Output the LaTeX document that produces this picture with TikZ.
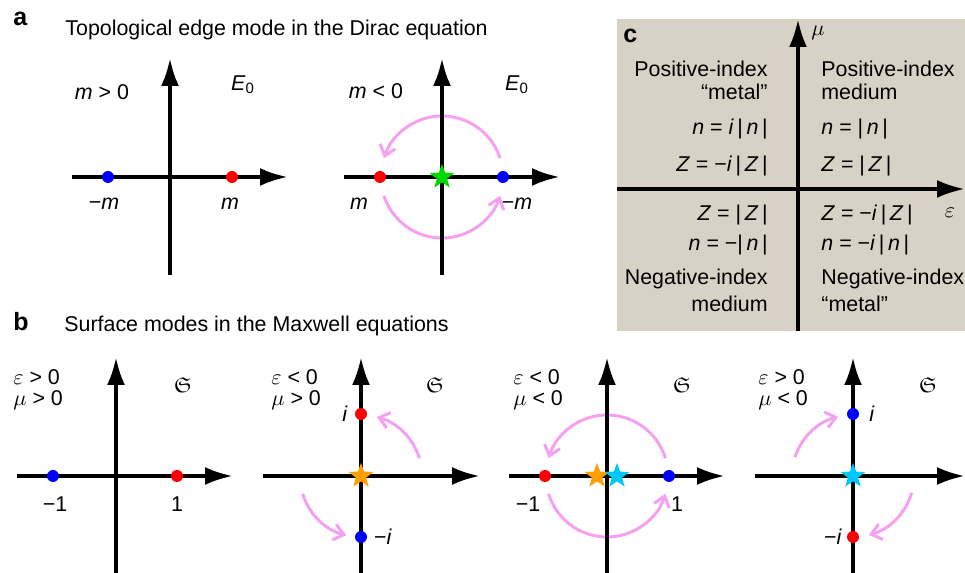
\documentclass[tikz,border=0pt]{standalone}
\usepackage{fontspec}
\setmainfont{Liberation Sans}
\usepackage{amssymb}
\usetikzlibrary{arrows.meta,shapes.geometric}
\definecolor{flowpink}{RGB}{245,160,240}
\definecolor{staryellow}{RGB}{255,160,0}
\definecolor{starcyan}{RGB}{0,200,245}
\definecolor{stargreen}{RGB}{0,215,0}
\definecolor{panelgray}{RGB}{216,209,198}
\begin{document}
\begin{tikzpicture}[x=0.5pt,y=0.5pt,
  every node/.style={font=\fontsize{10.7}{12.8}\selectfont, inner sep=0pt},
  axis/.style={line width=2pt, -{Latex[length=14pt,width=9pt]}},
  flow/.style={flowpink, line width=1.5pt, -{Straight Barb[length=5pt,width=8pt]}},
  dot/.style={circle, fill=#1, minimum size=6pt},
  starmark/.style={star, star points=5, star point ratio=2.4, fill=#1, minimum size=13pt},
  panel/.style={font=\fontsize{12.5}{14}\selectfont\bfseries, anchor=base west}]
\useasboundingbox (0,0) rectangle (965,573);
% panel a
\node[panel] (la) at (13,547) {a};
\node[anchor=base west] (ta) at (65,537) {Topological edge mode in the Dirac equation};
\draw[axis] (72,396) -- (288,396);
\draw[axis] (170,298) -- (170,515);
\node[dot=blue] (a1l) at (108,396) {};
\node[dot=red] (a1r) at (232,396) {};
\node (a1lm) at (104,369) {−\textit{m}};
\node (a1rm) at (230,369) {\textit{m}};
\node (a1c) at (102,481) {\textit{m} > 0};
\node (a1e) at (243,488) {\textit{E}\textsubscript{0}};
% a, m < 0
\draw[flow] (442,396) ++(18:61) arc[start angle=18, end angle=162, radius=61];
\draw[flow] (442,396) ++(198:61) arc[start angle=198, end angle=342, radius=61];
\draw[axis] (344,396) -- (560,396);
\draw[axis] (442,298) -- (442,515);
\node[dot=red] (a2l) at (380,396) {};
\node[dot=blue] (a2r) at (503,396) {};
\node[starmark=stargreen] (a2s) at (442,396) {};
\node (a2lm) at (359,369) {\textit{m}};
\node (a2rm) at (517,369) {−\textit{m}};
\node (a2c) at (376,482) {\textit{m} < 0};
\node (a2e) at (517,488) {\textit{E}\textsubscript{0}};
% panel c
\fill[panelgray] (617,242) rectangle (965,554);
\draw[axis] (617,384) -- (965,384);
\draw[axis] (798,242) -- (798,554);
\node[panel] (lc) at (623,530) {c};
\node (cmu) at (818,540) {$\mu$};
\node (ceps) at (950,360) {$\varepsilon$};
\node[anchor=base east] (c1) at (768,496) {Positive-index};
\node[anchor=base east] (c2) at (768,473) {“metal”};
\node[anchor=base east] (c3) at (768,438) {\textit{n} = \textit{i}\,|\,\textit{n}\,|};
\node[anchor=base east] (c4) at (768,401) {\textit{Z} = −\textit{i}\,|\,\textit{Z}\,|};
\node[anchor=base west] (c5) at (821,496) {Positive-index};
\node[anchor=base west] (c6) at (821,473) {medium};
\node[anchor=base west] (c7) at (821,438) {\textit{n} = |\,\textit{n}\,|};
\node[anchor=base west] (c8) at (821,401) {\textit{Z} = |\,\textit{Z}\,|};
\node[anchor=base east] (c9) at (768,352) {\textit{Z} = |\,\textit{Z}\,|};
\node[anchor=base east] (c10) at (768,322) {\textit{n} = −|\,\textit{n}\,|};
\node[anchor=base east] (c11) at (768,288) {Negative-index};
\node[anchor=base east] (c12) at (768,261) {medium};
\node[anchor=base west] (c13) at (821,352) {\textit{Z} = −\textit{i}\,|\,\textit{Z}\,|};
\node[anchor=base west] (c14) at (821,322) {\textit{n} = −\textit{i}\,|\,\textit{n}\,|};
\node[anchor=base west] (c15) at (821,288) {Negative-index};
\node[anchor=base west] (c16) at (821,261) {“metal”};
% panel b
\node[panel] (lb) at (13,242) {b};
\node[anchor=base west] (tb) at (64,241) {Surface modes in the Maxwell equations};
\draw[axis] (17,97) -- (233,97);
\draw[axis] (116,0) -- (116,216);
\node[dot=blue] (b1l) at (53,97) {};
\node[dot=red] (b1r) at (177,97) {};
\node (b1lm) at (55,69) {−1};
\node (b1rm) at (177,69) {1};
\node[anchor=west] (b1e) at (13,196) {$\varepsilon$ > 0};
\node[anchor=west] (b1m) at (13,173) {$\mu$ > 0};
\node (b1f) at (183,188) {$\mathfrak{S}$};
% b, eps < 0, mu > 0
\draw[flow] (361,97) ++(17:61) arc[start angle=17, end angle=75, radius=61];
\draw[flow] (361,97) ++(197:61) arc[start angle=197, end angle=256, radius=61];
\draw[axis] (263,97) -- (480,97);
\draw[axis] (361,0) -- (361,216);
\node[dot=red] (b2t) at (361,159) {};
\node[dot=blue] (b2b) at (361,36) {};
\node[starmark=staryellow] (b2s) at (361,97) {};
\node (b2tm) at (345,159) {\textit{i}};
\node (b2bm) at (383,36) {−\textit{i}};
\node[anchor=west] (b2e) at (271,196) {$\varepsilon$ < 0};
\node[anchor=west] (b2m) at (271,173) {$\mu$ > 0};
\node (b2f) at (435,188) {$\mathfrak{S}$};
% b, eps < 0, mu < 0
\draw[flow] (607,97) ++(17:61) arc[start angle=17, end angle=163, radius=61];
\draw[flow] (607,97) ++(197:61) arc[start angle=197, end angle=343, radius=61];
\draw[axis] (509,97) -- (725,97);
\draw[axis] (607,0) -- (607,216);
\node[dot=red] (b3l) at (545,97) {};
\node[dot=blue] (b3r) at (669,97) {};
\node[starmark=staryellow] (b3s) at (597,97) {};
\node[starmark=starcyan] (b3c) at (617,97) {};
\node (b3lm) at (528,69) {−1};
\node (b3rm) at (677,69) {1};
\node[anchor=west] (b3e) at (513,196) {$\varepsilon$ < 0};
\node[anchor=west] (b3m) at (513,173) {$\mu$ < 0};
\node (b3f) at (682,188) {$\mathfrak{S}$};
% b, eps > 0, mu < 0
\draw[flow] (853,97) ++(162:61) arc[start angle=162, end angle=104, radius=61];
\draw[flow] (853,97) ++(-16:61) arc[start angle=-16, end angle=-75, radius=61];
\draw[axis] (755,97) -- (965,97);
\draw[axis] (853,0) -- (853,216);
\node[dot=blue] (b4t) at (853,159) {};
\node[dot=red] (b4b) at (853,36) {};
\node[starmark=starcyan] (b4s) at (853,97) {};
\node (b4tm) at (872,159) {\textit{i}};
\node (b4bm) at (833,36) {−\textit{i}};
\node[anchor=west] (b4e) at (758,196) {$\varepsilon$ > 0};
\node[anchor=west] (b4m) at (758,173) {$\mu$ < 0};
\node (b4f) at (928,188) {$\mathfrak{S}$};
\end{tikzpicture}
\end{document}
